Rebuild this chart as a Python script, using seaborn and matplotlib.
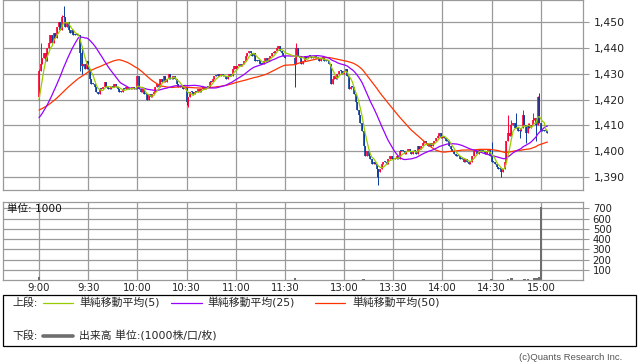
import numpy as np
import pandas as pd
import matplotlib
matplotlib.use("Agg")
import matplotlib.pyplot as plt
import seaborn as sns
from matplotlib.patches import Rectangle
from matplotlib.lines import Line2D

# ---------------- data ----------------
# previous session closes (only used to seed the moving averages)
prev_closes = [1420, 1420, 1419, 1419, 1420, 1421, 1420, 1419, 1418, 1419,
               1420, 1419, 1418, 1418, 1419, 1420, 1419, 1418, 1418, 1419,
               1419, 1418, 1419, 1418, 1417,
               1414, 1413, 1412, 1411, 1410, 1410, 1411, 1410, 1409, 1410,
               1411, 1412, 1411, 1410, 1411, 1412, 1411, 1412, 1413, 1412,
               1415, 1417, 1418, 1419]

# morning session 1-min closes 9:00 .. 11:30
am_closes = [1431, 1434, 1436, 1438, 1435, 1440, 1442, 1445, 1442, 1446,
             1444, 1448, 1450, 1447, 1452, 1452, 1448, 1450, 1447, 1446,
             1447, 1445, 1445, 1445, 1445, 1438, 1433, 1434, 1432, 1435,
             1432, 1428, 1426, 1426, 1425, 1423, 1422, 1424, 1424, 1425,
             1427, 1425, 1424, 1424, 1425, 1425, 1426, 1425, 1424, 1423,
             1423, 1424, 1424, 1425, 1424, 1424, 1424, 1425, 1424, 1424,
             1429, 1424, 1423, 1424, 1422, 1422, 1420, 1422, 1421, 1422,
             1423, 1425, 1426, 1425, 1428, 1427, 1429, 1427, 1428, 1430,
             1428, 1428, 1429, 1428, 1426, 1425, 1425, 1425, 1424, 1425,
             1419, 1421, 1423, 1423, 1422, 1423, 1423, 1424, 1423, 1424,
             1425, 1424, 1425, 1425, 1427, 1427, 1428, 1429, 1429, 1430,
             1429, 1430, 1429, 1429, 1428, 1429, 1430, 1429, 1432, 1433,
             1432, 1433, 1434, 1433, 1434, 1435, 1437, 1438, 1439, 1438,
             1437, 1438, 1435, 1435, 1435, 1434, 1434, 1435, 1436, 1435,
             1436, 1437, 1438, 1438, 1439, 1440, 1441, 1439, 1438, 1437,
             1436]

# afternoon session 1-min closes 12:30 .. close
pm_closes = [1434, 1440, 1437, 1436, 1434, 1435, 1437, 1436, 1437, 1437,
             1436, 1436, 1437, 1436, 1436, 1435, 1436, 1436, 1435, 1435,
             1435, 1434, 1426, 1428, 1429, 1428, 1430, 1431, 1431, 1430,
             1431, 1432, 1429, 1424, 1425, 1425, 1422, 1419, 1416, 1414,
             1411, 1408, 1402, 1398, 1400, 1398, 1397, 1395, 1396, 1395,
             1393, 1392, 1393, 1395, 1396, 1396, 1395, 1397, 1398, 1397,
             1397, 1397, 1398, 1397, 1400, 1400, 1400, 1399, 1400, 1401,
             1400, 1399, 1400, 1400, 1399, 1402, 1401, 1402, 1403, 1404,
             1403, 1402, 1403, 1402, 1403, 1404, 1405, 1406, 1407, 1405,
             1406, 1405, 1404, 1404, 1402, 1401, 1400, 1399, 1398, 1398,
             1398, 1397, 1397, 1396, 1397, 1396, 1395, 1396, 1398, 1400,
             1400, 1399, 1401, 1400, 1400, 1400, 1399, 1400, 1401, 1398,
             1396, 1396, 1395, 1394, 1393, 1393, 1392, 1393, 1396, 1404,
             1407, 1406, 1410, 1411, 1409, 1409, 1408, 1408, 1409, 1414,
             1410, 1407, 1410, 1409, 1410, 1412, 1413, 1410, 1421, 1411,
             1408, 1408, 1408, 1408, 1407]

first_open = 1421
pm_first_bar = 156          # bar slot of 12:30

# wick extremes beyond candle bodies (bar slot -> price)
hi_idx = [0, 1, 14, 15, 26, 157, 276, 286, 288, 291, 295, 298, 299, 301, 304, 305]
hi_val = [1432, 1442, 1453, 1456.5, 1441, 1442, 1403.5, 1414, 1412, 1415, 1416,
          1411, 1411, 1415, 1421.5, 1422.5]
lo_idx = [0, 25, 26, 90, 91, 156, 206, 207, 282, 293, 297, 303]
lo_val = [1420, 1431, 1430, 1418, 1417, 1425, 1390, 1387, 1390, 1405, 1403, 1404]

# volume (1000 shares); bars not listed are negligible
vol_idx = [0, 156, 198, 276, 286, 288, 296, 298, 302, 304, 305, 306]
vol_val = [30, 22, 8, 8, 12, 15, 10, 10, 15, 20, 30, 710]

time_labels = ["9:00", "9:30", "10:00", "10:30", "11:00", "11:30",
               "13:00", "13:30", "14:00", "14:30", "15:00"]
time_slots = [0, 30, 60, 90, 120, 150, 186, 216, 246, 276, 306]
price_ticks = [1390, 1400, 1410, 1420, 1430, 1440, 1450]
vol_ticks = [100, 200, 300, 400, 500, 600, 700]

# ---------------- style ----------------
sns.set_style("white")
plt.rcParams["font.family"] = ["DejaVu Sans", "Noto Sans CJK JP"]

W, H = 638, 362
fig = plt.figure(figsize=(W / 100, H / 100), dpi=100)
fig.patch.set_facecolor("white")

def fx(px):
    return px / W

def fy(py):
    return 1 - py / H

GRID = "#9a9a9a"
C5, C25, C50 = "#99cc00", "#9900ff", "#ff3300"
UP, DOWN = "#ff0033", "#0a3c9c"

ax1 = fig.add_axes([fx(3), fy(190), fx(583) - fx(3), fy(0) - fy(190)])
ax2 = fig.add_axes([fx(3), fy(280), fx(583) - fx(3), fy(202) - fy(280)])

closes = np.array(am_closes + pm_closes, dtype=float)
xpos = np.r_[np.arange(len(am_closes)), np.arange(len(pm_closes)) + pm_first_bar]
opens = np.r_[first_open, closes[:-1]]

full = pd.Series(prev_closes + am_closes + pm_closes, dtype=float)
n_prev = len(prev_closes)
ma = {k: full.rolling(k).mean().to_numpy()[n_prev:] for k in (5, 25, 50)}

# candles
body_lo = np.minimum(opens, closes)
body_hi = np.maximum(opens, closes)
flat = body_hi - body_lo < 0.3
body_hi = np.where(flat, body_lo + 0.4, body_hi)
colors = np.where(closes > opens, UP, DOWN)

slot_to_i = {s: i for i, s in enumerate(xpos)}
hi = body_hi.copy()
lo = body_lo.copy()
for s, v in zip(hi_idx, hi_val):
    hi[slot_to_i[s]] = max(hi[slot_to_i[s]], v)
for s, v in zip(lo_idx, lo_val):
    lo[slot_to_i[s]] = min(lo[slot_to_i[s]], v)

ax1.vlines(xpos, lo, hi, colors=colors, lw=0.7, zorder=2, capstyle="butt")
ax1.vlines(xpos, body_lo, body_hi, colors=colors, lw=1.2, zorder=2, capstyle="butt")

for k, c in ((50, C50), (25, C25), (5, C5)):
    sns.lineplot(x=xpos, y=ma[k], ax=ax1, color=c, lw=0.9, sort=False,
                 estimator=None, zorder=3, legend=False)

xmin, xmax = -21.95, 331.7
ax1.set_xlim(xmin, xmax)
ax1.set_ylim(1384.96, 1458.65)
ax1.set_xticks(time_slots)
ax1.set_xticklabels([])
ax1.set_yticks(price_ticks)
ax1.set_yticklabels([f"{v:,}" for v in price_ticks])
ax1.yaxis.tick_right()
ax1.tick_params(axis="y", which="both", length=4, width=0.8, color=GRID,
                labelsize=7.8, pad=4, labelcolor="#222222")
ax1.tick_params(axis="x", length=0)
ax1.grid(True, color=GRID, lw=0.9)
ax1.set_axisbelow(True)
for sp in ax1.spines.values():
    sp.set_color(GRID)
    sp.set_linewidth(0.9)
ax1.set_xlabel("")
ax1.set_ylabel("")

# volume
vx = [xpos[slot_to_i[s]] for s in vol_idx]
ax2.bar(vx, vol_val, width=1.5, color="#6e6e6e", linewidth=0, zorder=2)
ax2.set_xlim(xmin, xmax)
ax2.set_ylim(0, 761.7)
ax2.set_yticks(vol_ticks)
ax2.set_yticklabels([str(v) for v in vol_ticks])
ax2.yaxis.tick_right()
ax2.tick_params(axis="y", length=4, width=0.8, color=GRID, labelsize=7.2,
                pad=3, labelcolor="#222222")
ax2.set_xticks(time_slots)
ax2.set_xticklabels(time_labels)
ax2.tick_params(axis="x", length=0, labelsize=7.3, pad=2, labelcolor="#222222")
ax2.grid(True, color=GRID, lw=0.9)
ax2.set_axisbelow(True)
for sp in ax2.spines.values():
    sp.set_color(GRID)
    sp.set_linewidth(0.9)
ax2.text(0.007, 0.91, "単位: 1000", transform=ax2.transAxes, fontsize=7.6,
         va="center", ha="left", color="#111111")

# legend box
fig.patches.append(Rectangle((fx(3), fy(346)), fx(636) - fx(3), fy(295) - fy(346),
                             transform=fig.transFigure, fill=False,
                             edgecolor="black", lw=0.9))
ly1, ly2 = fy(303), fy(336)
fs = 7.8
fig.text(fx(12), ly1, "上段:", fontsize=fs, va="center", ha="left")
fig.text(fx(12), ly2, "下段:", fontsize=fs, va="center", ha="left")
for (x0, x1, c, tx, lbl) in ((43, 73, C5, 79, "単純移動平均(5)"),
                              (171, 202, C25, 207, "単純移動平均(25)"),
                              (315, 345, C50, 352, "単純移動平均(50)")):
    fig.lines.append(Line2D([fx(x0), fx(x1)], [ly1, ly1], transform=fig.transFigure,
                            color=c, lw=0.9))
    fig.text(fx(tx), ly1, lbl, fontsize=fs, va="center", ha="left")
fig.lines.append(Line2D([fx(43), fx(73)], [ly2, ly2], transform=fig.transFigure,
                        color="#6e6e6e", lw=2.6))
fig.text(fx(79), ly2, "出来高 単位:(1000株/口/枚)", fontsize=fs, va="center", ha="left")

fig.text(fx(622), fy(357), "(c)Quants Research Inc.", fontsize=6.8, va="center",
         ha="right", color="#555555", family=["Liberation Sans", "DejaVu Sans"])

fig.savefig("out.png", dpi=100)
